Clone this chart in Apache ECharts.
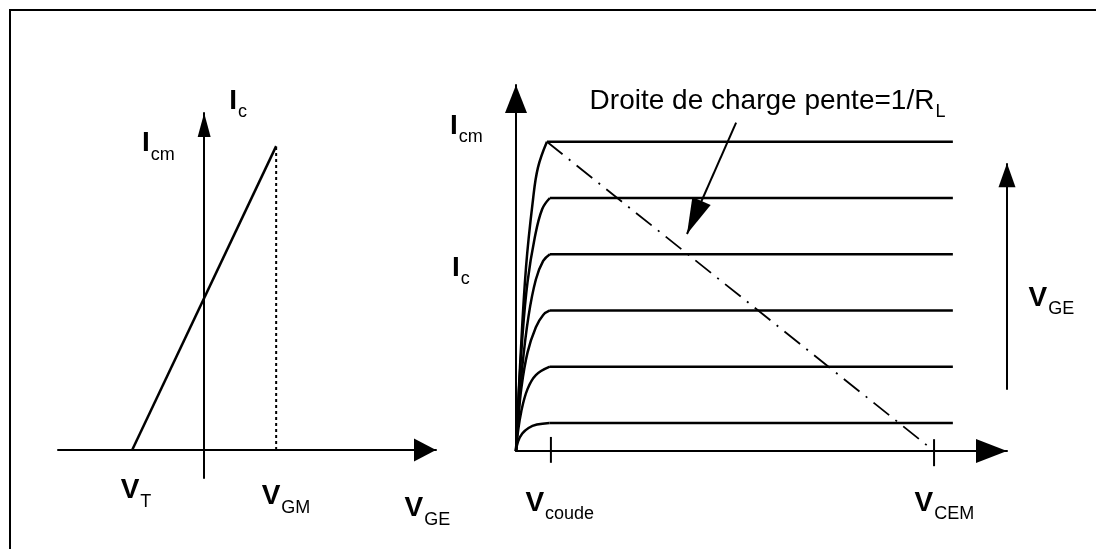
<!DOCTYPE html>
<html><head><meta charset="utf-8">
<script src="https://cdn.jsdelivr.net/npm/echarts@6/dist/echarts.min.js"></script>
<style>
html,body{margin:0;padding:0;background:#fff;}
#frame{position:absolute;left:9px;top:9px;width:1090px;height:545px;border-top:2px solid #000;border-left:2px solid #000;}
#chart{position:absolute;left:0;top:0;width:1096px;height:549px;}
</style>
</head><body><div id="frame"></div><div id="chart"></div>
<script>
// ---- Left panel: transfer characteristic ----
const transferV = [-2, 2];          // V_T, V_GM
const transferI = [0, 10];          // 0, I_CM
const leftXRange = [-4.06, 6.44];
const leftYRange = [-0.92, 11.09];

// ---- Right panel: output characteristics ----
const levels = [0.5, 1.5, 2.5, 3.5, 4.5, 5.5];
const riseCurves = [
  [[0,0],[0.1,0.17],[0.3,0.31],[0.6,0.41],[1.0,0.47],[1.6,0.5]],
  [[0,0],[0.08,0.3],[0.25,0.7],[0.55,1.1],[0.95,1.35],[1.62,1.5]],
  [[0,0],[0.1,0.5],[0.25,1.1],[0.55,1.75],[0.95,2.2],[1.3,2.42],[1.62,2.5]],
  [[0,0],[0.1,0.6],[0.3,1.5],[0.6,2.4],[0.95,3.05],[1.3,3.38],[1.62,3.5]],
  [[0,0],[0.1,0.8],[0.3,2.0],[0.55,3.0],[0.9,3.8],[1.25,4.3],[1.62,4.5]],
  [[0,0],[0.19,1.49],[0.48,3.27],[0.81,4.46],[1.05,5.04],[1.48,5.5]]
];
const flatEndX = 20.9;
const vCoude = 1.67;
const vCEM = 20;
const loadLine = [[1.48, 5.5], [20, 0]];
const rightXRange = [0, 23.49];
const rightYRange = [0, 6.51];
const pointerArrow = [[10.53, 5.84], [8.18, 3.86]];
const vgeArrow = [[23.49, 1.09], [23.49, 5.12]];

const FONT = 'Liberation Sans';
const rich = {
  m: {fontFamily: FONT, fontSize: 28, fontWeight: 'bold', lineHeight: 30, verticalAlign: 'top', color: '#000000', opacity: 1},
  t: {fontFamily: FONT, fontSize: 28, lineHeight: 30, verticalAlign: 'top', color: '#000000', opacity: 1},
  s: {fontFamily: FONT, fontSize: 18, lineHeight: 18, padding: [16, 0, 0, 1], verticalAlign: 'top', color: '#000000', opacity: 1}
};
function lab(v, main, sub, off, plain) {
  return {value: v, label: {show: true, color: '#000000', opacity: 1,
    formatter: '{' + (plain ? 't' : 'm') + '|' + main + '}' + (sub ? '{s|' + sub + '}' : ''),
    position: off, align: 'left', verticalAlign: 'top', rich: rich}};
}
const blk = '#000';
const axisBase = (gi, range, arrow) => ({
  type: 'value', gridIndex: gi, min: range[0], max: range[1],
  splitLine: {show: false}, axisTick: {show: false}, axisLabel: {show: false},
  axisLine: {show: true, onZero: true, symbol: ['none', 'triangle'], symbolSize: arrow,
    symbolOffset: [0, -arrow[1] / 2], lineStyle: {color: blk, width: 2}}
});

const series = [];
// left transfer line
series.push({type: 'line', xAxisIndex: 0, yAxisIndex: 0, symbol: 'none', silent: true,
  data: transferV.map((v, i) => [v, transferI[i]]), lineStyle: {color: blk, width: 2.5}});
// dotted vertical at V_GM
series.push({type: 'line', xAxisIndex: 0, yAxisIndex: 0, symbol: 'none', silent: true,
  data: [[transferV[1], 0], [transferV[1], transferI[1]]], lineStyle: {color: blk, width: 2, type: [3, 3]}});
// left labels
series.push({type: 'scatter', xAxisIndex: 0, yAxisIndex: 0, symbolSize: 1, silent: true,
  itemStyle: {color: 'rgba(0,0,0,0)'},
  data: [
    lab([0, leftYRange[1]], 'I', 'c', [25.5, -25]),
    lab([0, transferI[1]], 'I', 'cm', [-61.6, -16]),
    lab([transferV[0], 0], 'V', 'T', [-11, 27]),
    lab([transferV[1], 0], 'V', 'GM', [-14, 33]),
    lab([leftXRange[1], 0], 'V', 'GE', [-31, 45])
  ]});

// right curves
riseCurves.forEach((c, i) => {
  series.push({type: 'line', xAxisIndex: 1, yAxisIndex: 1, symbol: 'none', silent: true, smooth: 0.4,
    data: c, lineStyle: {color: blk, width: 2.5}});
  series.push({type: 'line', xAxisIndex: 1, yAxisIndex: 1, symbol: 'none', silent: true,
    data: [c[c.length - 1], [flatEndX, levels[i]]], lineStyle: {color: blk, width: 2.5}});
});
// load line
series.push({type: 'line', xAxisIndex: 1, yAxisIndex: 1, symbol: 'none', silent: true, clip: false,
  data: loadLine, lineStyle: {color: blk, width: 1.8, type: [20, 8, 2, 8]}});
// ticks
series.push({type: 'line', xAxisIndex: 1, yAxisIndex: 1, symbol: 'none', silent: true, clip: false,
  data: [[vCoude, 0.25], [vCoude, -0.21]], lineStyle: {color: blk, width: 2}});
series.push({type: 'line', xAxisIndex: 1, yAxisIndex: 1, symbol: 'none', silent: true, clip: false,
  data: [[vCEM, 0.21], [vCEM, -0.27]], lineStyle: {color: blk, width: 2}});
// arrows
series.push({type: 'line', xAxisIndex: 1, yAxisIndex: 1, symbol: 'none', silent: true, data: [],
  markLine: {silent: true, animation: false, label: {show: false},
    symbol: ['none', 'triangle'], symbolSize: [20, 36], symbolOffset: [0, [0, 18]],
    lineStyle: {color: blk, width: 2, type: 'solid'},
    data: [[{coord: pointerArrow[0]}, {coord: pointerArrow[1]}]]}});
series.push({type: 'line', xAxisIndex: 1, yAxisIndex: 1, symbol: 'none', silent: true, data: [],
  markLine: {silent: true, animation: false, label: {show: false},
    symbol: ['none', 'triangle'], symbolSize: [17, 24], symbolOffset: [0, [0, 12]],
    lineStyle: {color: blk, width: 2, type: 'solid'},
    data: [[{coord: vgeArrow[0]}, {coord: vgeArrow[1]}]]}});
// right labels
series.push({type: 'scatter', xAxisIndex: 1, yAxisIndex: 1, symbolSize: 1, silent: true,
  itemStyle: {color: 'rgba(0,0,0,0)'},
  data: [
    lab([0, levels[5]], 'I', 'cm', [-65.6, -28.9]),
    lab([0, levels[3]], 'I', 'c', [-63.6, 0.6]),
    lab([vCoude, 0], 'V', 'coude', [-25, 39]),
    lab([vCEM, 0], 'V', 'CEM', [-19, 39]),
    lab([rightXRange[1], 3], 'V', 'GE', [22, 2.6]),
    lab(pointerArrow[0], 'Droite de charge pente=1/R', 'L', [-146, -35], true)
  ]});

const chart = echarts.init(document.getElementById('chart'), null, {renderer: 'canvas'});
chart.setOption({
  animation: false,
  backgroundColor: 'transparent',
  textStyle: {color: '#000000', fontFamily: FONT},
  grid: [
    {left: 58, top: 113, width: 378, height: 365},
    {left: 516, top: 85, width: 491, height: 366}
  ],
  xAxis: [axisBase(0, leftXRange, [23, 22]), axisBase(1, rightXRange, [24, 31])],
  yAxis: [axisBase(0, leftYRange, [13, 24]), axisBase(1, rightYRange, [22, 28])],
  series: series
});
</script>
</body></html>
